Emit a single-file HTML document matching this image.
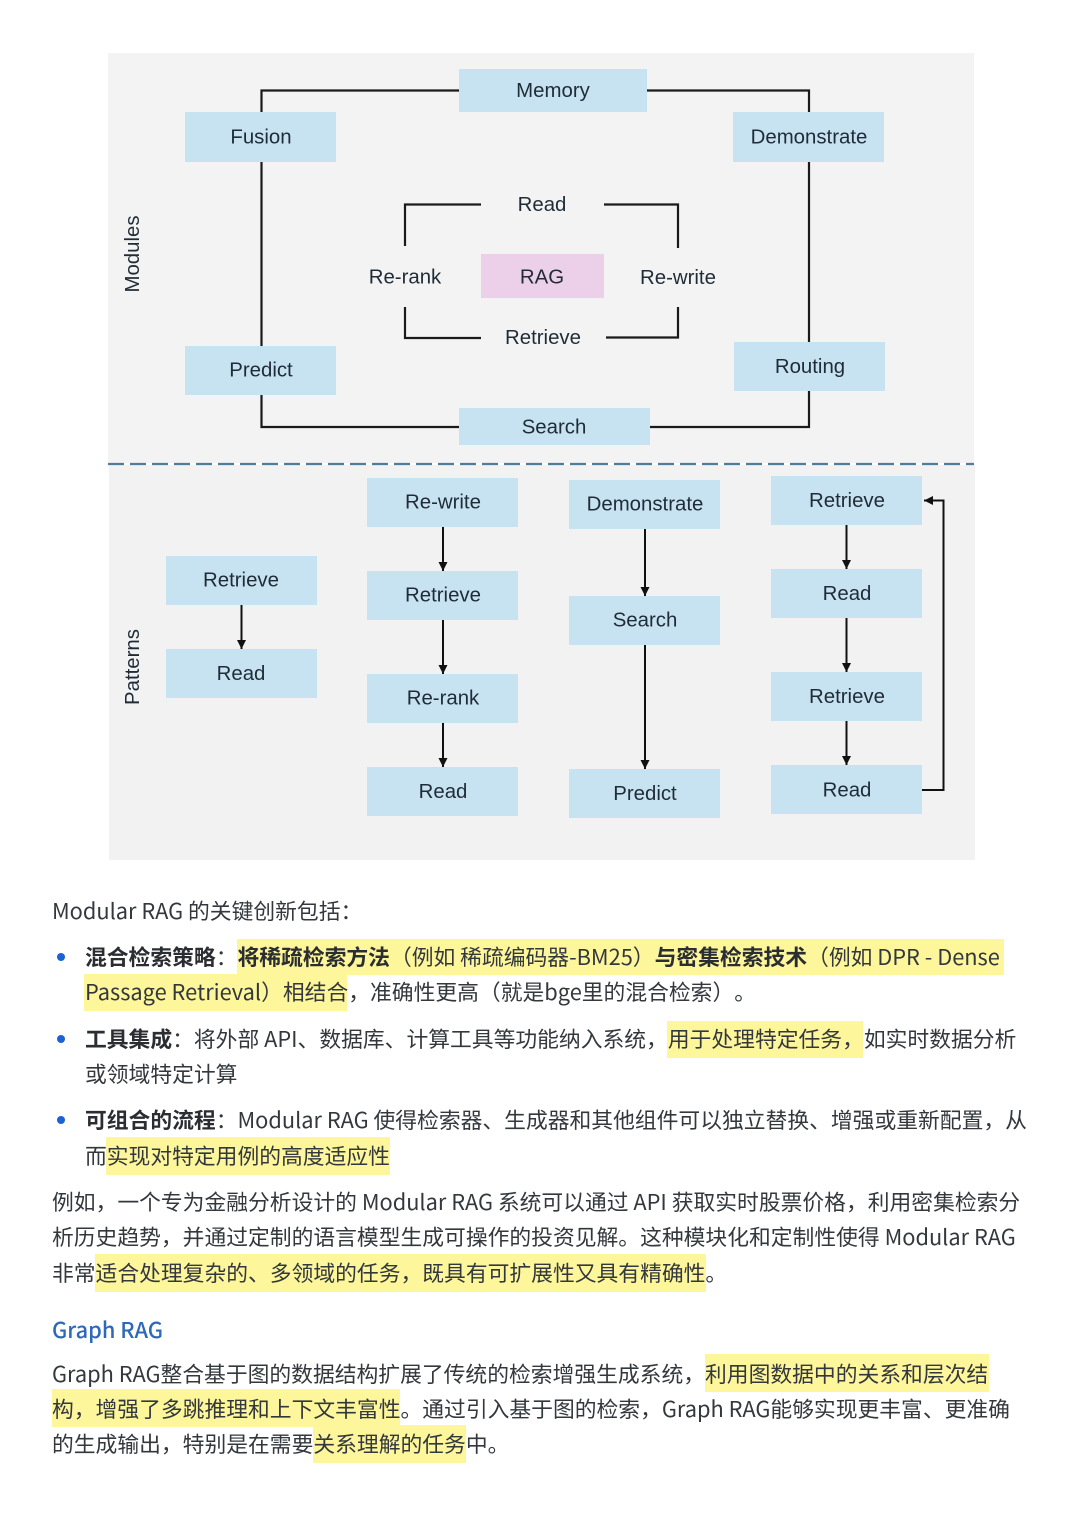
<!DOCTYPE html>
<html lang="zh-CN">
<head>
<meta charset="utf-8">
<style>
html,body{margin:0;padding:0;background:#fff}
body{width:1080px;height:1514px;position:relative;overflow:hidden}
svg{position:absolute;left:0;top:0}
.hl{position:absolute;background:#fdf69b}
.l{position:absolute;white-space:nowrap;height:36px;line-height:36px;font-size:21.79px;color:#33383d;font-family:"Noto Sans CJK SC","Liberation Sans",sans-serif;}
.l b{font-weight:700;color:#2a2d31}
.d{position:absolute;width:8px;height:8px;border-radius:50%;background:#1c62d4;left:57px}
svg text{font-family:"Liberation Sans",sans-serif;font-size:20.4px;fill:#1f2c38;text-anchor:middle;dominant-baseline:central}
</style>
</head>
<body>
<svg width="1080" height="1514" viewBox="0 0 1080 1514">
<defs>
<marker id="a" markerUnits="userSpaceOnUse" markerWidth="10" markerHeight="9" refX="9" refY="4.5" orient="auto"><path d="M0 0L9 4.5L0 9z" fill="#111"/></marker>
</defs>
<rect x="108" y="53" width="866" height="410" fill="#f3f3f3"/>
<rect x="109" y="465" width="866" height="395" fill="#f2f2f2"/>
<line x1="108" y1="464" x2="974" y2="464" stroke="#4f7d99" stroke-width="2.2" stroke-dasharray="16 6"/>
<g fill="none" stroke="#1a1a1a" stroke-width="2.200">
<path d="M459 90.500H261.500V395M261.500 395V427H459"/>
<path d="M647 90.500H809V391V427H650"/>
<path d="M481 204.500H405V246"/>
<path d="M604 204.500H678V248"/>
<path d="M405 307V338H481"/>
<path d="M678 307V337.500H606"/>
</g>
<g fill="#c7e2f1">
<rect x="459" y="69" width="188" height="43"/>
<rect x="185" y="112" width="151" height="50"/>
<rect x="733" y="112" width="151" height="50"/>
<rect x="185" y="346" width="151" height="49"/>
<rect x="734" y="342" width="151" height="49"/>
<rect x="459" y="408" width="191" height="37"/>
<rect x="367" y="478" width="151" height="49"/>
<rect x="569" y="480" width="151" height="49"/>
<rect x="771" y="476" width="151" height="49"/>
<rect x="166" y="556" width="151" height="49"/>
<rect x="166" y="649" width="151" height="49"/>
<rect x="367" y="571" width="151" height="49"/>
<rect x="569" y="596" width="151" height="49"/>
<rect x="771" y="569" width="151" height="49"/>
<rect x="367" y="674" width="151" height="49"/>
<rect x="771" y="672" width="151" height="49"/>
<rect x="367" y="767" width="151" height="49"/>
<rect x="569" y="769" width="151" height="49"/>
<rect x="771" y="765" width="151" height="49"/>
</g>
<rect x="481" y="254" width="123" height="44" fill="#ecd0e9"/>
<g fill="none" stroke="#111" stroke-width="2" marker-end="url(#a)">
<line x1="443" y1="527" x2="443" y2="571"/>
<line x1="443" y1="620" x2="443" y2="674"/>
<line x1="443" y1="723" x2="443" y2="767"/>
<line x1="241.500" y1="605" x2="241.500" y2="649"/>
<line x1="645" y1="529" x2="645" y2="596"/>
<line x1="645" y1="645" x2="645" y2="769"/>
<line x1="846.500" y1="525" x2="846.500" y2="569"/>
<line x1="846.500" y1="618" x2="846.500" y2="672"/>
<line x1="846.500" y1="721" x2="846.500" y2="765"/>
<path d="M922 790H943.500V500.500H924"/>
</g>
<g transform="translate(0 0.500)">
<text x="553" y="90.500">Memory</text>
<text x="261" y="137">Fusion</text>
<text x="809" y="137">Demonstrate</text>
<text x="542" y="204.500">Read</text>
<text x="405" y="277">Re-rank</text>
<text x="542" y="277">RAG</text>
<text x="678" y="277.500">Re-write</text>
<text x="543" y="337.500">Retrieve</text>
<text x="261" y="370">Predict</text>
<text x="810" y="366.500">Routing</text>
<text x="554" y="427">Search</text>
<text x="443" y="502">Re-write</text>
<text x="645" y="504">Demonstrate</text>
<text x="847" y="500.500">Retrieve</text>
<text x="241" y="580">Retrieve</text>
<text x="241" y="673.500">Read</text>
<text x="443" y="595">Retrieve</text>
<text x="645" y="620">Search</text>
<text x="847" y="593.500">Read</text>
<text x="443" y="698">Re-rank</text>
<text x="847" y="696.500">Retrieve</text>
<text x="443" y="791.500">Read</text>
<text x="645" y="793.500">Predict</text>
<text x="847" y="790">Read</text>
<text transform="translate(133 253.500) rotate(-90)">Modules</text>
<text transform="translate(133 666.500) rotate(-90)">Patterns</text>
</g>
</svg>

<div class="hl" style="left:237px;top:939px;width:767px;height:36px"></div>
<div class="hl" style="left:84px;top:974px;width:263px;height:37px"></div>
<div class="hl" style="left:667px;top:1021px;width:196px;height:37px"></div>
<div class="hl" style="left:106px;top:1137px;width:284px;height:38px"></div>
<div class="hl" style="left:95px;top:1254px;width:611px;height:38px"></div>
<div class="hl" style="left:705px;top:1354px;width:284px;height:38px"></div>
<div class="hl" style="left:52px;top:1389px;width:348px;height:38px"></div>
<div class="hl" style="left:313px;top:1425px;width:153px;height:38px"></div>

<div class="d" style="top:953px"></div>
<div class="d" style="top:1035px"></div>
<div class="d" style="top:1116px"></div>

<div class="l" style="left:52px;top:893px">Modular RAG 的关键创新包括：</div>
<div class="l" style="left:85px;top:939px"><b>混合检索策略</b>：<b>将稀疏检索方法</b>（例如 稀疏编码器-BM25）<b>与密集检索技术</b>（例如 DPR - Dense</div>
<div class="l" style="left:85px;top:974px;text-spacing-trim:space-all">Passage Retrieval）相结合，准确性更高（就是bge里的混合检索）。</div>
<div class="l" style="left:85px;top:1021px"><b>工具集成</b>：将外部 API、数据库、计算工具等功能纳入系统，用于处理特定任务，如实时数据分析</div>
<div class="l" style="left:85px;top:1056px">或领域特定计算</div>
<div class="l" style="left:85px;top:1102px"><b>可组合的流程</b>：Modular RAG 使得检索器、生成器和其他组件可以独立替换、增强或重新配置，从</div>
<div class="l" style="left:85px;top:1138px">而实现对特定用例的高度适应性</div>
<div class="l" style="left:52px;top:1184px">例如，一个专为金融分析设计的 Modular RAG 系统可以通过 API 获取实时股票价格，利用密集检索分</div>
<div class="l" style="left:52px;top:1219px">析历史趋势，并通过定制的语言模型生成可操作的投资见解。这种模块化和定制性使得 Modular RAG</div>
<div class="l" style="left:52px;top:1255px">非常适合处理复杂的、多领域的任务，既具有可扩展性又具有精确性。</div>
<div class="l" style="left:52px;top:1312px;color:#2e68b8;font-weight:500;font-size:21.800px">Graph RAG</div>
<div class="l" style="left:52px;top:1356px">Graph RAG整合基于图的数据结构扩展了传统的检索增强生成系统，利用图数据中的关系和层次结</div>
<div class="l" style="left:52px;top:1391px">构，增强了多跳推理和上下文丰富性。通过引入基于图的检索，Graph RAG能够实现更丰富、更准确</div>
<div class="l" style="left:52px;top:1426px">的生成输出，特别是在需要关系理解的任务中。</div>
</body>
</html>
